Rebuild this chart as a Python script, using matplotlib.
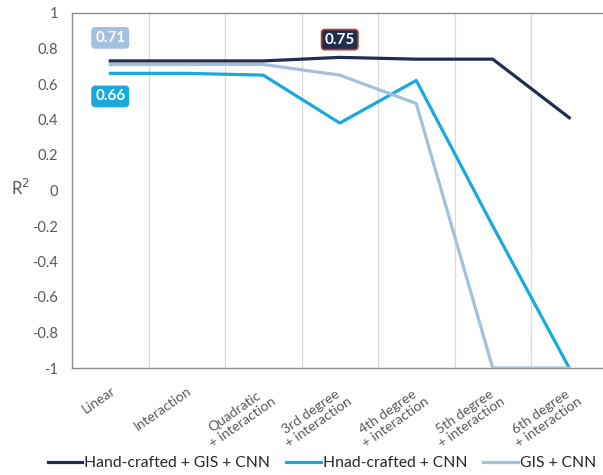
import matplotlib.pyplot as plt
import numpy as np

plt.rcParams['font.family'] = ['Lato', 'DejaVu Sans']

categories = ["Linear", "Interaction", "Quadratic\n+ interaction", "3rd degree\n+ interaction",
              "4th degree\n+ interaction", "5th degree\n+ interaction", "6th degree\n+ interaction"]
hand_gis_cnn = [0.73, 0.73, 0.73, 0.75, 0.74, 0.74, 0.41]
hand_cnn = [0.66, 0.66, 0.65, 0.38, 0.62, -0.20, -1.0]
gis_cnn = [0.71, 0.71, 0.71, 0.65, 0.49, -1.0, -1.0]
yticks = [1, 0.8, 0.6, 0.4, 0.2, 0, -0.2, -0.4, -0.6, -0.8, -1]

c_dark = "#1f2d4e"
c_blue = "#18a9df"
c_light = "#a3c0df"
grey = "#595959"

fig = plt.figure(figsize=(6.03, 4.75), dpi=100)
ax = fig.add_axes([72 / 603, 107 / 475, 535.5 / 603, 355 / 475])

x = np.arange(len(categories))
ax.plot(x, hand_gis_cnn, color=c_dark, lw=2.3, label="Hand-crafted + GIS + CNN", zorder=4)
ax.plot(x, hand_cnn, color=c_blue, lw=2.3, label="Hnad-crafted + CNN", zorder=3)
ax.plot(x, gis_cnn, color=c_light, lw=2.3, label="GIS + CNN", zorder=3)

ax.set_xlim(-0.5, len(categories) - 0.5)
ax.set_ylim(-1, 1)
for b in np.arange(0.5, len(categories) - 0.5, 1):
    ax.axvline(b, color="#d9d9d9", lw=0.9, zorder=1)

ax.set_yticks(yticks)
ax.set_yticklabels([f"{v:g}" for v in yticks], color=grey, fontsize=10.5)
ax.tick_params(axis="y", length=0, pad=10)
ax.set_xticks(x)
ax.set_xticklabels(categories, rotation=35, ha="right", rotation_mode="anchor",
                   color=grey, fontsize=10, linespacing=1.1, multialignment="center")
ax.tick_params(axis="x", length=0, pad=12)

for s in ["left", "top", "bottom"]:
    ax.spines[s].set_color("#8c8c8c")
    ax.spines[s].set_linewidth(1.0)
ax.spines["right"].set_visible(False)

fig.text(20 / 603, 1 - 188 / 475, "R$^2$", color=grey, fontsize=12, ha="center", va="center")

def tag(xi, yv, txt, fc, ec):
    ax.text(xi, yv, txt, color="white", fontsize=11, fontweight="bold", ha="center", va="center",
            bbox=dict(boxstyle="round,pad=0.2,rounding_size=0.2", fc=fc, ec=ec, lw=1.2), zorder=6)

tag(0, 0.86, f"{gis_cnn[0]:.2f}", c_light, c_light)
tag(0, 0.53, f"{hand_cnn[0]:.2f}", c_blue, c_blue)
tag(3, 0.85, f"{hand_gis_cnn[3]:.2f}", c_dark, "#c0392b")

fig.legend(loc="center", bbox_to_anchor=(322 / 603, 1 - 463 / 475), ncol=3, frameon=False,
           fontsize=11.3, handlelength=2.2, columnspacing=1.0, handletextpad=0.15,
           labelcolor="#262626", borderaxespad=0, borderpad=0)

fig.savefig("out.png", dpi=100)
